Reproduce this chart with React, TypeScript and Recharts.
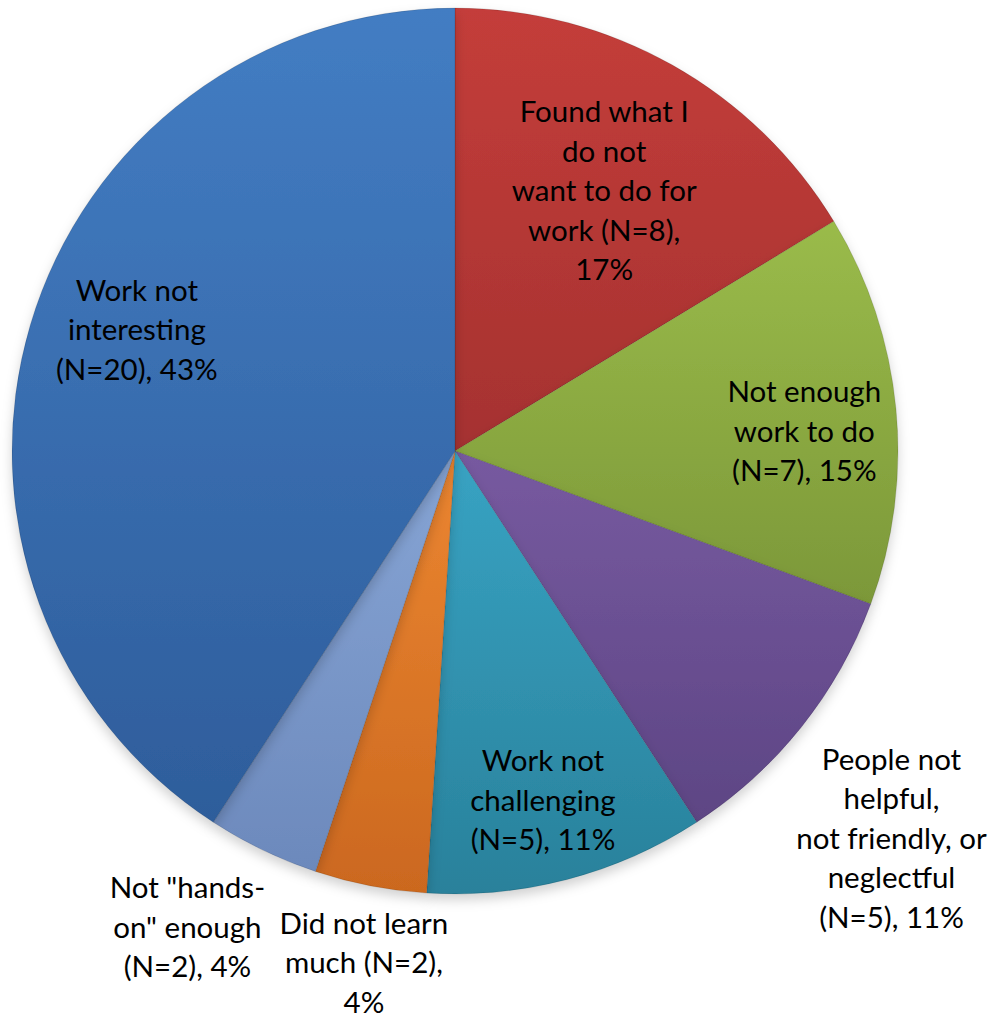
import React from "react";
import { PieChart, Pie, Cell } from "recharts";

const categories = [
  ["Found what I", "do not", "want to do for", "work"],
  ["Not enough", "work to do"],
  ["People not", "helpful,", "not friendly, or", "neglectful"],
  ["Work not", "challenging"],
  ["Did not learn", "much"],
  ["Not \"hands-", "on\" enough"],
  ["Work not", "interesting"],
];
const counts = [8, 7, 5, 5, 2, 2, 20];
const percents = [17, 15, 11, 11, 4, 4, 43];

// label text lines as displayed
const labelLines = [
  ["Found what I", "do not", "want to do for", "work (N=8),", "17%"],
  ["Not enough", "work to do", "(N=7), 15%"],
  ["People not", "helpful,", "not friendly, or", "neglectful", "(N=5), 11%"],
  ["Work not", "challenging", "(N=5), 11%"],
  ["Did not learn", "much (N=2),", "4%"],
  ["Not \"hands-", "on\" enough", "(N=2), 4%"],
  ["Work not", "interesting", "(N=20), 43%"],
];

const colors = [
  ["#C43D3A", "#A53230"],
  ["#9ABB4A", "#7C9839"],
  ["#775AA0", "#5D4584"],
  ["#38A3C3", "#29819B"],
  ["#EC8631", "#CB681F"],
  ["#87A5D5", "#6C89BC"],
  ["#437DC3", "#2E5D9B"],
];

// label layout: radius factor (of outer radius) and angle nudge (deg, clockwise)
const LABEL_R = [0.68, 0.79, 1.315, 0.81, 1.17, 1.23, 0.77];
const LABEL_NUDGE = [0.3, 2, 2.9, 0.5, -0.9, 3.7, 4.6];

const data = categories.map((c, i) => ({
  name: c.join(" "),
  value: counts[i],
  pct: percents[i],
}));

const RAD = Math.PI / 180;
const FONT = "Lato, 'Open Sans', sans-serif";
const LINE_H = 39.5;

const renderLabel = (props: any) => {
  const { cx, cy, midAngle, outerRadius, index } = props;
  const ang = midAngle - LABEL_NUDGE[index];
  const r = outerRadius * LABEL_R[index];
  const x = cx + r * Math.cos(-ang * RAD);
  const y = cy + r * Math.sin(-ang * RAD);
  const lines = labelLines[index];
  const y0 = y - ((lines.length - 1) * LINE_H) / 2;
  return (
    <text
      key={`lbl-${index}`}
      x={x}
      y={y0}
      textAnchor="middle"
      dominantBaseline="central"
      fill="#000"
      style={{ fontFamily: FONT, fontSize: 29.5 }}
    >
      {lines.map((l, k) => (
        <tspan key={k} x={x} y={y0 + k * LINE_H} dominantBaseline="central">
          {l}
        </tspan>
      ))}
    </text>
  );
};

export default function App() {
  return (
    <div style={{ position: "absolute", left: 0, top: 0, width: 991, height: 1017, background: "#fff" }}>
      <PieChart width={991} height={1017} margin={{ top: 0, right: 0, bottom: 0, left: 0 }}>
        <defs>
          {colors.map((c, i) => (
            <linearGradient key={i} id={`g${i}`} x1="0" y1="0" x2="0" y2="1">
              <stop offset="0%" stopColor={c[0]} />
              <stop offset="100%" stopColor={c[1]} />
            </linearGradient>
          ))}
          <filter id="shadow" x="-10%" y="-10%" width="120%" height="125%">
            <feDropShadow dx="0" dy="6" stdDeviation="6" floodColor="#000" floodOpacity="0.18" />
          </filter>
        </defs>
        <Pie
          data={data}
          dataKey="value"
          nameKey="name"
          cx={455}
          cy={451}
          outerRadius={443}
          startAngle={90}
          endAngle={-270}
          stroke="rgba(0,0,0,0.12)"
          strokeWidth={1}
          isAnimationActive={false}
          labelLine={false}
          label={renderLabel}
          style={{ filter: "url(#shadow)" }}
        >
          {data.map((_, i) => (
            <Cell key={i} fill={`url(#g${i})`} />
          ))}
        </Pie>
      </PieChart>
    </div>
  );
}
